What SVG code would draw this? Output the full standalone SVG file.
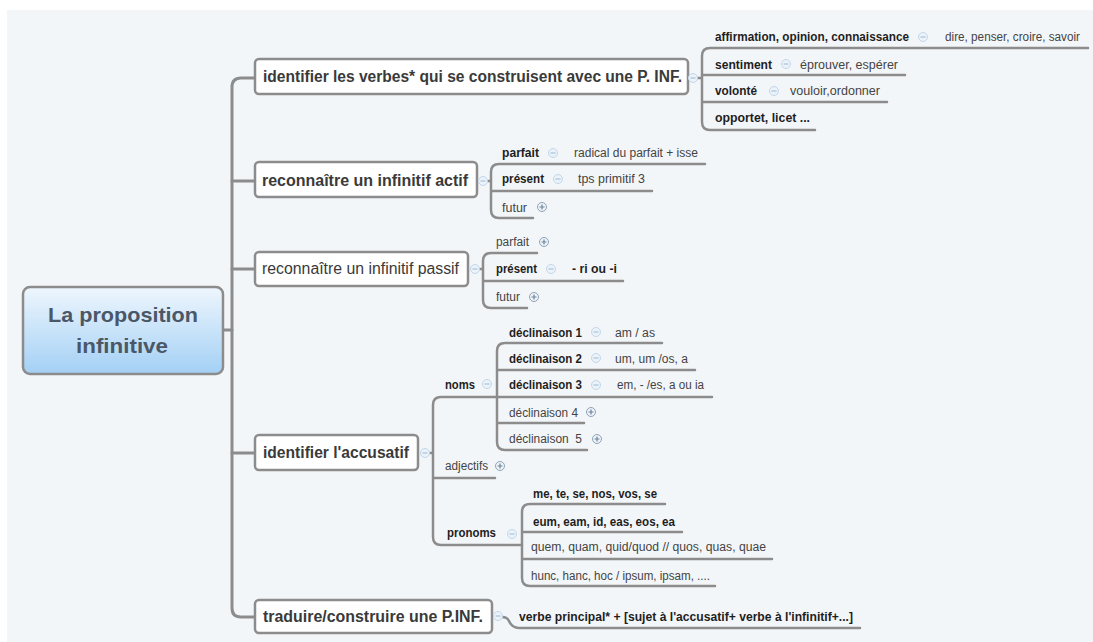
<svg xmlns="http://www.w3.org/2000/svg" width="1093" height="642" viewBox="0 0 1093 642">
<defs>
  <linearGradient id="rootGrad" x1="0" y1="0" x2="0" y2="1">
    <stop offset="0" stop-color="#eef6fd"/>
    <stop offset="1" stop-color="#a3d0f5"/>
  </linearGradient>
  <g id="mm"><circle r="4.5" fill="#eaf2fa" stroke="#c3d6ea" stroke-width="1"/><path d="M-2.5,0H2.5" stroke="#a9c1d9" stroke-width="1.2"/></g>
  <g id="mp"><circle r="4.5" fill="#eef3f8" stroke="#8fa3b8" stroke-width="1"/><path d="M-2.5,0H2.5M0,-2.5V2.5" stroke="#6f8499" stroke-width="1.2"/></g>
</defs>
<style>
  .bg{fill:#f3f6f9}
  .box{fill:#ffffff;stroke:#8c8c8c;stroke-width:2.5}
  .rootbox{fill:url(#rootGrad);stroke:#8c8c8c;stroke-width:2.5}
  .ln{fill:none;stroke:#8c8c8c;stroke-width:2.5;stroke-linecap:round;stroke-linejoin:round}
  .trunk{stroke-width:3}
  text{font-family:"Liberation Sans",Arial,sans-serif}
  .root{font-size:21px;font-weight:bold;fill:#4b5767;text-anchor:middle}
  .t1{font-size:16px;font-weight:bold;fill:#3a3a3a}
  .t1n{font-size:16px;fill:#3a3a3a}
  .kb{font-size:12.5px;font-weight:bold;fill:#1e1e1e}
  .kr{font-size:12px;fill:#444444}
</style>
<rect class="bg" x="7" y="10" width="1086" height="632"/>

<g id="connectors" class="ln">
  <path class="trunk" d="M255,78 H241 Q232,78 232,87 V608 Q232,617 241,617 H255"/>
  <path class="trunk" d="M223,330 H232 M232,181 H255 M232,269 H255 M232,453 H255"/>
  <path d="M1088,48 H710 Q702,48 702,56 V122 Q702,130 710,130 H815 M702,75 H905 M702,102 H887 M697,78 H702"/>
  <path d="M705,164 H499 Q491,164 491,172 V210 Q491,218 499,218 H533 M491,191 H652 M487,181 H491"/>
  <path d="M537,253 H491 Q483,253 483,261 V300 Q483,308 491,308 H527 M483,281 H623 M479,269 H483"/>
  <path d="M497,397 H441 Q433,397 433,405 V537 Q433,545 441,545 H522 M433,478 H495 M429,453 H433"/>
  <path d="M662,343 H505 Q497,343 497,351 V442 Q497,450 505,450 H587 M497,370 H695 M497,397 H712 M497,423 H584"/>
  <path d="M665,504 H530 Q522,504 522,512 V578 Q522,586 530,586 H715 M522,532 H682 M522,559 H772"/>
  <path d="M502,617 Q507,617 509,621 Q512,628 519,628 H860"/>
</g>

<g id="root">
  <rect class="rootbox" x="23" y="287" width="200" height="87" rx="7"/>
  <text class="root" x="123" y="322" textLength="150" lengthAdjust="spacingAndGlyphs">La proposition</text>
  <text class="root" x="122" y="353" textLength="92" lengthAdjust="spacingAndGlyphs">infinitive</text>
</g>

<g id="n1">
  <rect class="box" x="255" y="59" width="433" height="35" rx="4"/>
  <text class="t1" x="263" y="82" textLength="419" lengthAdjust="spacingAndGlyphs">identifier les verbes* qui se construisent avec une P. INF.</text>
  <use href="#mm" x="693" y="78"/>
</g>
<g id="n1-affirmation">
  <text class="kb" x="715" y="41" textLength="194" lengthAdjust="spacingAndGlyphs">affirmation, opinion, connaissance</text>
  <use href="#mm" x="923" y="37"/>
  <text class="kr" x="945" y="41" textLength="135" lengthAdjust="spacingAndGlyphs">dire, penser, croire, savoir</text>
</g>
<g id="n1-sentiment">
  <text class="kb" x="715" y="69" textLength="57" lengthAdjust="spacingAndGlyphs">sentiment</text>
  <use href="#mm" x="786" y="64"/>
  <text class="kr" x="800" y="69" textLength="98" lengthAdjust="spacingAndGlyphs">éprouver, espérer</text>
</g>
<g id="n1-volonte">
  <text class="kb" x="715" y="95" textLength="42" lengthAdjust="spacingAndGlyphs">volonté</text>
  <use href="#mm" x="774" y="91"/>
  <text class="kr" x="790" y="95" textLength="90" lengthAdjust="spacingAndGlyphs">vouloir,ordonner</text>
</g>
<g id="n1-opportet">
  <text class="kb" x="715" y="122" textLength="95" lengthAdjust="spacingAndGlyphs">opportet, licet ...</text>
</g>

<g id="n2">
  <rect class="box" x="255" y="162" width="222" height="35" rx="4"/>
  <text class="t1" x="262" y="186" textLength="206" lengthAdjust="spacingAndGlyphs">reconnaître un infinitif actif</text>
  <use href="#mm" x="483" y="181"/>
</g>
<g id="n2-parfait">
  <text class="kb" x="502" y="157" textLength="37" lengthAdjust="spacingAndGlyphs">parfait</text>
  <use href="#mm" x="553" y="153"/>
  <text class="kr" x="574" y="157" textLength="124" lengthAdjust="spacingAndGlyphs">radical du parfait + isse</text>
</g>
<g id="n2-present">
  <text class="kb" x="502" y="183" textLength="42" lengthAdjust="spacingAndGlyphs">présent</text>
  <use href="#mm" x="558" y="179"/>
  <text class="kr" x="578" y="183" textLength="67" lengthAdjust="spacingAndGlyphs">tps primitif 3</text>
</g>
<g id="n2-futur">
  <text class="kr" x="502" y="212" textLength="25" lengthAdjust="spacingAndGlyphs">futur</text>
  <use href="#mp" x="542" y="207"/>
</g>

<g id="n3">
  <rect class="box" x="255" y="252" width="213" height="34" rx="4"/>
  <text class="t1n" x="262" y="274" textLength="197" lengthAdjust="spacingAndGlyphs">reconnaître un infinitif passif</text>
  <use href="#mm" x="475" y="269"/>
</g>
<g id="n3-parfait">
  <text class="kr" x="496" y="246" textLength="33" lengthAdjust="spacingAndGlyphs">parfait</text>
  <use href="#mp" x="544" y="242"/>
</g>
<g id="n3-present">
  <text class="kb" x="496" y="273" textLength="41" lengthAdjust="spacingAndGlyphs">présent</text>
  <use href="#mm" x="551" y="269"/>
  <text class="kb" x="572" y="273" textLength="45" lengthAdjust="spacingAndGlyphs">- ri ou -i</text>
</g>
<g id="n3-futur">
  <text class="kr" x="496" y="301" textLength="24" lengthAdjust="spacingAndGlyphs">futur</text>
  <use href="#mp" x="534" y="297"/>
</g>

<g id="n4">
  <rect class="box" x="255" y="435" width="163" height="35" rx="4"/>
  <text class="t1" x="263" y="458" textLength="146" lengthAdjust="spacingAndGlyphs">identifier l'accusatif</text>
  <use href="#mm" x="425" y="453"/>
</g>
<g id="n4-noms">
  <text class="kb" x="445" y="389" textLength="30" lengthAdjust="spacingAndGlyphs">noms</text>
  <use href="#mm" x="487" y="384"/>
</g>
<g id="n4-decl1">
  <text class="kb" x="509" y="337" textLength="73" lengthAdjust="spacingAndGlyphs">déclinaison 1</text>
  <use href="#mm" x="596" y="332"/>
  <text class="kr" x="615" y="337" textLength="40" lengthAdjust="spacingAndGlyphs">am / as</text>
</g>
<g id="n4-decl2">
  <text class="kb" x="509" y="363" textLength="73" lengthAdjust="spacingAndGlyphs">déclinaison 2</text>
  <use href="#mm" x="596" y="358"/>
  <text class="kr" x="615" y="363" textLength="73" lengthAdjust="spacingAndGlyphs">um, um /os, a</text>
</g>
<g id="n4-decl3">
  <text class="kb" x="509" y="389" textLength="73" lengthAdjust="spacingAndGlyphs">déclinaison 3</text>
  <use href="#mm" x="596" y="385"/>
  <text class="kr" x="617" y="389" textLength="87" lengthAdjust="spacingAndGlyphs">em, - /es, a ou ia</text>
</g>
<g id="n4-decl4">
  <text class="kr" x="509" y="417" textLength="69" lengthAdjust="spacingAndGlyphs">déclinaison 4</text>
  <use href="#mp" x="591" y="412"/>
</g>
<g id="n4-decl5">
  <text class="kr" x="509" y="443" textLength="73" lengthAdjust="spacingAndGlyphs" style="white-space:pre">déclinaison  5</text>
  <use href="#mp" x="597" y="439"/>
</g>
<g id="n4-adjectifs">
  <text class="kr" x="445" y="470" textLength="43" lengthAdjust="spacingAndGlyphs">adjectifs</text>
  <use href="#mp" x="500" y="466"/>
</g>
<g id="n4-pronoms">
  <text class="kb" x="447" y="537" textLength="49" lengthAdjust="spacingAndGlyphs">pronoms</text>
  <use href="#mm" x="512" y="534"/>
</g>
<g id="n4-pron1">
  <text class="kb" x="533" y="498" textLength="124" lengthAdjust="spacingAndGlyphs">me, te, se, nos, vos, se</text>
</g>
<g id="n4-pron2">
  <text class="kb" x="533" y="526" textLength="142" lengthAdjust="spacingAndGlyphs">eum, eam, id, eas, eos, ea</text>
</g>
<g id="n4-pron3">
  <text class="kr" x="531" y="551" textLength="235" lengthAdjust="spacingAndGlyphs">quem, quam, quid/quod // quos, quas, quae</text>
</g>
<g id="n4-pron4">
  <text class="kr" x="531" y="580" textLength="179" lengthAdjust="spacingAndGlyphs">hunc, hanc, hoc / ipsum, ipsam, ....</text>
</g>

<g id="n5">
  <rect class="box" x="255" y="600" width="237" height="33" rx="4"/>
  <text class="t1" x="263" y="622" textLength="220" lengthAdjust="spacingAndGlyphs">traduire/construire une P.INF.</text>
  <use href="#mm" x="498" y="616"/>
</g>
<g id="n5-formule">
  <text class="kb" x="519" y="621" textLength="334" lengthAdjust="spacingAndGlyphs">verbe principal* + [sujet à l'accusatif+ verbe à l'infinitif+...]</text>
</g>
</svg>
